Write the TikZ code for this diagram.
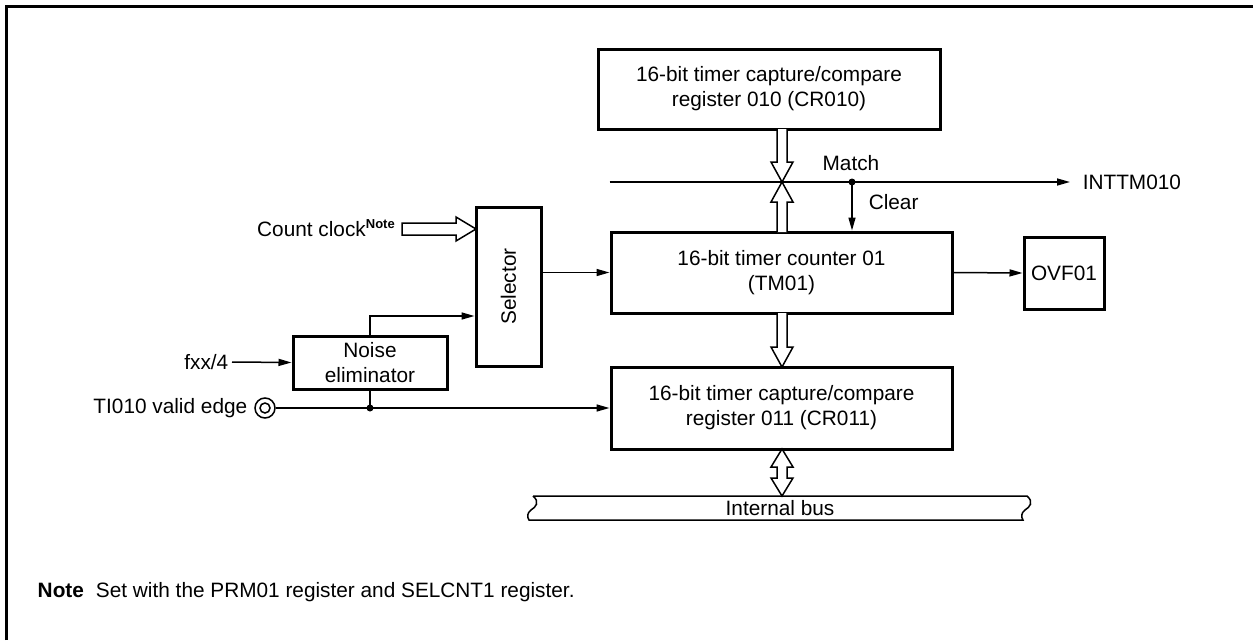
\documentclass[tikz,border=0pt]{standalone}
\usepackage{fontspec}
\setmainfont{Liberation Sans}
\usetikzlibrary{arrows.meta,calc}

\begin{document}
\begin{tikzpicture}[x=1pt,y=-1pt,>={Triangle[length=13pt,width=7pt]},line width=1.5pt,
 font=\fontsize{20.8}{25}\selectfont,
 blk/.style={draw,line width=3pt,align=center,inner sep=0pt},
 lbl/.style={inner sep=0pt},
 hol/.style={draw,fill=white,line width=1.5pt,line join=miter}]
\useasboundingbox (0,0) rectangle (1253,640);
\draw[line width=3.5pt] (6.5,640) -- (6.5,6.5) -- (1253,6.5);
% Registers and counter.
\node[blk,minimum width=342pt,minimum height=80pt] (cr10) at (769,89) {16-bit timer capture/compare\\register 010 (CR010)};
\node[blk,minimum width=341pt,minimum height=81pt] (tm) at (781.5,272.5) {16-bit timer counter 01\\(TM01)};
\node[blk,minimum width=341pt,minimum height=82pt] (cr11) at (781.5,408) {16-bit timer capture/compare\\register 011 (CR011)};
\node[blk,minimum width=80pt,minimum height=72pt] (ovf) at (1064,273) {OVF01};
\node[blk,minimum width=65pt,minimum height=159pt] (sel) at (508.5,286.5) {\rotatebox{90}{Selector}};
\node[blk,minimum width=154pt,minimum height=53pt] (noise) at (370,362.5) {Noise\\eliminator};
% Inputs on the left.
\node[lbl,anchor=base east] (cc) at (396,236) {Count clock\textsuperscript{\fontsize{13}{13}\selectfont\textbf{Note}}};
\node[lbl,anchor=east] (fxx) at (229,362) {fxx/4};
\node[lbl,anchor=east] (tilbl) at (248,408) {TI010 valid edge};
\node[circle,draw,minimum size=20pt,inner sep=0pt] (ti) at (265,408) {};
\node[circle,draw,minimum size=10pt,inner sep=0pt] at (ti) {};
\draw[hol] (402,223) -- (456,223) -- (456,217) -- (476,229) -- (456,241) -- (456,235) -- (402,235) -- cycle;
\draw[->] ([xshift=3pt]fxx.east) -- (noise.west);
\coordinate (nsel) at (sel.west |- 0,316);
\draw[->] (noise.north) |- (nsel);
\coordinate (j1) at (noise.south |- ti);
\draw (noise.south) -- (j1);
\draw[->] (ti.east) -- (cr11.west);
\fill (j1) circle (3.5pt);
\draw[->] (sel.east |- tm.west) -- (tm.west);
\draw[->] (tm.east) -- (ovf.west);
% Match / clear.
\node[lbl,anchor=west] (inttm) at (1082,182) {INTTM010};
\node[lbl,anchor=east] (match) at (880,163) {Match};
\node[lbl,anchor=west] (clear) at (868,202) {Clear};
\coordinate (mstart) at (tm.west |- inttm);
\coordinate (clr) at (852,182);
\draw[->] (mstart) -- ([xshift=-12pt]inttm.west);
\fill (clr) circle (3.5pt);
\draw[->] (clr) -- (clr |- tm.north);
% Hollow data arrows.
\draw[hol] (777,129) -- (777,162) -- (771,162) -- (782,182) -- (793,162) -- (787,162) -- (787,129);
\draw[hol] (777,232) -- (777,202) -- (771,202) -- (782,182) -- (793,202) -- (787,202) -- (787,232);
\draw[hol] (777,313) -- (777,347) -- (771,347) -- (782,367) -- (793,347) -- (787,347) -- (787,313);
\draw[hol] (782,449) -- (793,467) -- (787,467) -- (787,478) -- (793,478) -- (782,496) -- (771,478) -- (777,478) -- (777,467) -- (771,467) -- cycle;
% Internal bus.
\draw (533,496) -- (1027,496) .. controls (1034,502) and (1030,507) .. (1025,510) .. controls (1021,513) and (1021,517) .. (1023,520) -- (529,520) .. controls (527,517) and (527,513) .. (531,510) .. controls (536,507) and (540,502) .. (533,496);
\node[lbl] (bus) at (780,508) {Internal bus};
% Footnote.
\node[lbl,anchor=west] (note) at (37,592) {\textbf{Note}\hspace{12pt}Set with the PRM01 register and SELCNT1 register.};
\end{tikzpicture}
\end{document}
